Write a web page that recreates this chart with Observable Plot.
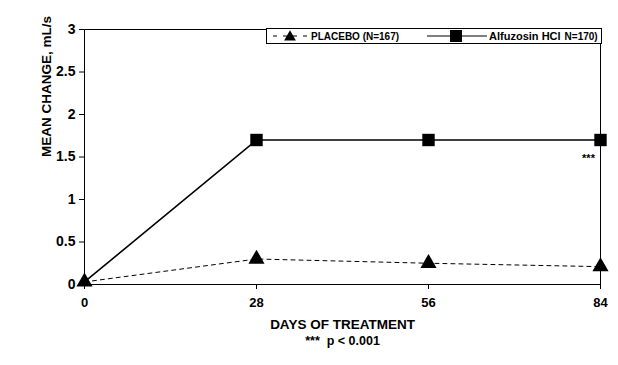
<!DOCTYPE html>
<html><head><meta charset="utf-8">
<script src="https://cdn.jsdelivr.net/npm/d3@7"></script>
<script src="https://cdn.jsdelivr.net/npm/@observablehq/plot@0.6"></script>
<style>
body{margin:0;background:#fff;font-family:"Liberation Sans",Arial,sans-serif;}
#wrap{position:relative;width:618px;height:365px;}
#legend{position:absolute;left:266px;top:28px;width:336px;height:16px;border:1px solid #000;background:#fff;box-sizing:border-box;display:flex;align-items:center;font-size:10px;font-weight:bold;}
#legend svg{display:block}
</style></head><body>
<div id="wrap"><div id="legend"></div></div>
<script>
const days = [0, 28, 56, 84];
const placebo = [0.03, 0.30, 0.25, 0.21];
const alfuzosin = [0.03, 1.70, 1.70, 1.70];
const yTicks = [0, 0.5, 1, 1.5, 2, 2.5, 3];
const seriesNames = ["PLACEBO (N=167)", "Alfuzosin HCl  N=170)"];
const annotation = [{day: 84, value: 1.48, label: "***"}];

const rows = [
  ...days.map((d, i) => ({day: d, value: placebo[i], series: seriesNames[0]})),
  ...days.map((d, i) => ({day: d, value: alfuzosin[i], series: seriesNames[1]}))
];
const pl = rows.filter(r => r.series === seriesNames[0]);
const al = rows.filter(r => r.series === seriesNames[1]);

const chart = Plot.plot({
  width: 618, height: 365,
  marginLeft: 84, marginRight: 18, marginTop: 29, marginBottom: 81,
  style: {fontFamily: '"Liberation Sans", Arial, sans-serif', fontSize: "13px", fontWeight: "bold", color: "#000", background: "#fff"},
  x: {domain: [0, 84], ticks: days, tickFormat: d => String(d), label: null},
  y: {domain: [0, 3], ticks: yTicks, tickFormat: d => String(d), label: null},
  marks: [
    Plot.frame({stroke: "#000", strokeWidth: 1}),
    Plot.axisX({ticks: days, tickSize: 5, tickPadding: 8, fontSize: 13, tickFormat: d => String(d)}),
    Plot.axisY({ticks: yTicks, tickSize: 5, tickPadding: 4, fontSize: 14, tickFormat: d => String(d)}),
    Plot.text(["MEAN CHANGE, mL/s"], {frameAnchor: "left", dx: -38, rotate: -90, fontSize: 13.5, fontWeight: "bold"}),
    Plot.text(["DAYS OF TREATMENT"], {frameAnchor: "bottom", dy: 44, fontSize: 13.5, fontWeight: "bold"}),
    Plot.text(["***  p < 0.001"], {frameAnchor: "bottom", dy: 60, fontSize: 12.5, fontWeight: "bold"}),
    Plot.line(pl, {x: "day", y: "value", stroke: "#000", strokeWidth: 1, strokeDasharray: "4,4"}),
    Plot.line(al, {x: "day", y: "value", stroke: "#000", strokeWidth: 1.6}),
    Plot.dot(al.filter(d => d.day > 0), {x: "day", y: "value", symbol: "square", r: 7, fill: "#000", stroke: "none"}),
    Plot.dot(pl, {x: "day", y: "value", symbol: "triangle", r: 6, fill: "#000", stroke: "none"}),
    Plot.text(annotation, {x: "day", y: "value", text: "label", dx: -12, fontSize: 11, fontWeight: "bold"})
  ]
});
document.getElementById("wrap").prepend(chart);

const lg = document.getElementById("legend");
lg.innerHTML = `
<svg width="42" height="14"><line x1="6" y1="7" x2="40" y2="7" stroke="#000" stroke-dasharray="4,6"/><path transform="translate(23,8)" d="${d3.symbol(d3.symbolTriangle, 60)()}" fill="#000"/></svg>
<span style="margin-left:2px">${seriesNames[0]}</span>
<svg width="64" height="14" style="margin-left:26px"><line x1="2" y1="7" x2="62" y2="7" stroke="#000" stroke-width="1.2"/><rect x="25" y="1" width="12" height="12" fill="#000"/></svg>
<span style="font-size:11px">Alfuzosin HCl</span><span style="margin-left:4px">N=170)</span>`;
</script>
</body></html>
